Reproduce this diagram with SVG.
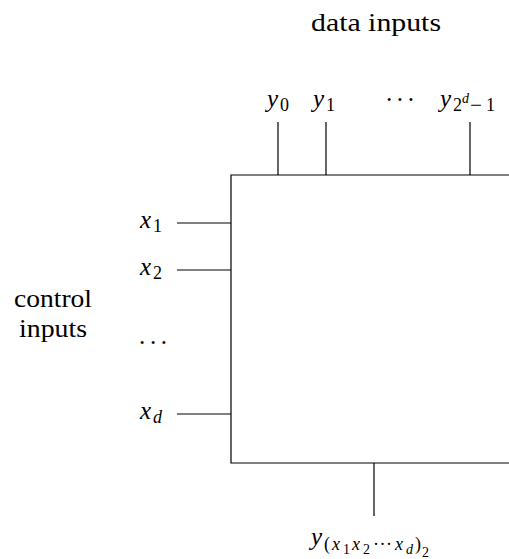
<svg xmlns="http://www.w3.org/2000/svg" width="509" height="559" viewBox="0 0 509 559">
<style>
text{font-family:"Liberation Serif","Times New Roman",serif;font-size:25px;fill:#000}
.m{font-style:italic}
.s{font-size:18px}
.ss{font-size:14px}
.w{stroke:#000;stroke-width:1.2;fill:none}
</style>
<rect width="509" height="559" fill="#fff"/>
<g id="mux">
<path class="w" d="M509,175 H231 V463 H509"/>
</g>
<g id="connectors">
<line class="w" x1="278" y1="122" x2="278" y2="175"/>
<line class="w" x1="326" y1="122" x2="326" y2="175"/>
<line class="w" x1="470" y1="122" x2="470" y2="175"/>
<line class="w" x1="177" y1="223" x2="231" y2="223"/>
<line class="w" x1="177" y1="270" x2="231" y2="270"/>
<line class="w" x1="177" y1="414" x2="231" y2="414"/>
<line class="w" x1="374" y1="463" x2="374" y2="516"/>
</g>
<g id="data-label"><text x="311" y="31" textLength="130" lengthAdjust="spacingAndGlyphs">data inputs</text></g>
<g id="control-label">
<text x="14" y="307" textLength="78" lengthAdjust="spacingAndGlyphs">control</text>
<text x="19" y="337" textLength="68" lengthAdjust="spacingAndGlyphs">inputs</text>
</g>
<g id="y0"><text x="267" y="107" class="m">y</text><text x="280" y="111" class="s">0</text></g>
<g id="y1"><text x="313" y="107" class="m">y</text><text x="326" y="111" class="s">1</text></g>
<g id="ydots"><text x="385" y="108" textLength="30">···</text></g>
<g id="ylast"><text x="440" y="107" class="m">y</text><text x="453" y="111" class="s">2</text><text x="462" y="103" class="ss m">d</text><text x="470" y="111" class="s" textLength="12" lengthAdjust="spacingAndGlyphs">−</text><text x="486" y="111" class="s">1</text></g>
<g id="x1"><text x="140" y="228" class="m">x</text><text x="153" y="232" class="s">1</text></g>
<g id="x2"><text x="140" y="275" class="m">x</text><text x="153" y="279" class="s">2</text></g>
<g id="xdots"><text x="139" y="344" textLength="28">...</text></g>
<g id="xd"><text x="140" y="419" class="m">x</text><text x="153" y="423" class="s m">d</text></g>
<g id="out">
<text x="311" y="545" class="m">y</text>
<text x="324" y="550" class="s">(</text>
<text x="332" y="550" class="s m">x</text>
<text x="343" y="554" class="ss">1</text>
<text x="352" y="550" class="s m">x</text>
<text x="363" y="554" class="ss">2</text>
<text x="373" y="550" class="s" textLength="19">···</text>
<text x="395" y="550" class="s m">x</text>
<text x="406" y="554" class="ss m">d</text>
<text x="415" y="550" class="s">)</text>
<text x="422" y="557" class="ss">2</text>
</g>
</svg>
